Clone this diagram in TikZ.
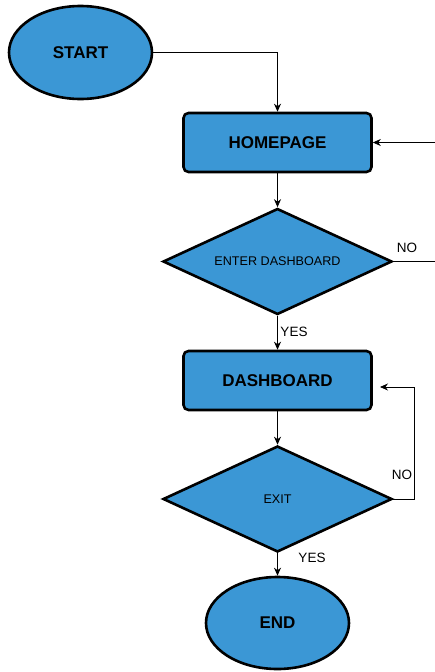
\documentclass[tikz,border=0pt]{standalone}
\usepackage{fontspec}
\setmainfont{Liberation Sans}
\usetikzlibrary{shapes.geometric,arrows.meta}
\definecolor{boxblue}{RGB}{59,151,213}
\begin{document}
\begin{tikzpicture}[x=1pt,y=-1pt,
  shapebase/.style={draw=black,line width=2.6pt,fill=boxblue,inner sep=0pt},
  oval/.style={shapebase,ellipse,minimum width=143pt,minimum height=93pt,font=\fontsize{17}{20}\selectfont\bfseries},
  stepbox/.style={shapebase,rectangle,rounded corners=5pt,minimum width=188pt,minimum height=59pt,font=\fontsize{17}{20}\selectfont\bfseries},
  decision/.style={shapebase,diamond,aspect=2.16,minimum width=229pt,minimum height=106pt,font=\fontsize{12.6}{15}\selectfont},
  conn/.style={draw=black,line width=0.8pt,-{Stealth[length=8pt,width=7pt]}},
  plain/.style={draw=black,line width=0.8pt},
  lbl/.style={font=\fontsize{13.5}{16}\selectfont,inner sep=0pt}]
\useasboundingbox (0,0) rectangle (435,672);
\node[oval] (start) at (80.5,52.5) {START};
\node[stepbox] (home) at (277.5,142.5) {HOMEPAGE};
\node[decision] (q1) at (277.5,261.5) {ENTER DASHBOARD};
\node[stepbox] (dash) at (277.5,380.5) {DASHBOARD};
\node[decision] (q2) at (277.5,499) {EXIT};
\node[oval,minimum height=92pt] (end) at (277.5,623) {END};
\coordinate (rin) at (435,142.5);
\coordinate (rout) at (435,261.5);
\coordinate (loopc) at (414,387);
\coordinate (dtip) at (380,387);
\draw[conn] (start.east) -| (home.north);
\draw[conn] (rin) -- (home.east);
\draw[conn] (home.south) -- (q1.north);
\draw[plain] (q1.east) -- (rout);
\draw[conn] (q1.south) -- (dash.north);
\draw[conn] (dash.south) -- (q2.north);
\draw[conn] (q2.east) -| (loopc) -- (dtip);
\draw[conn] (q2.south) -- (end.north);
\node[lbl] (no1) at (407,248) {NO};
\node[lbl] (yes1) at (294,332) {YES};
\node[lbl] (no2) at (402,475) {NO};
\node[lbl] (yes2) at (312,558) {YES};
\end{tikzpicture}
\end{document}
